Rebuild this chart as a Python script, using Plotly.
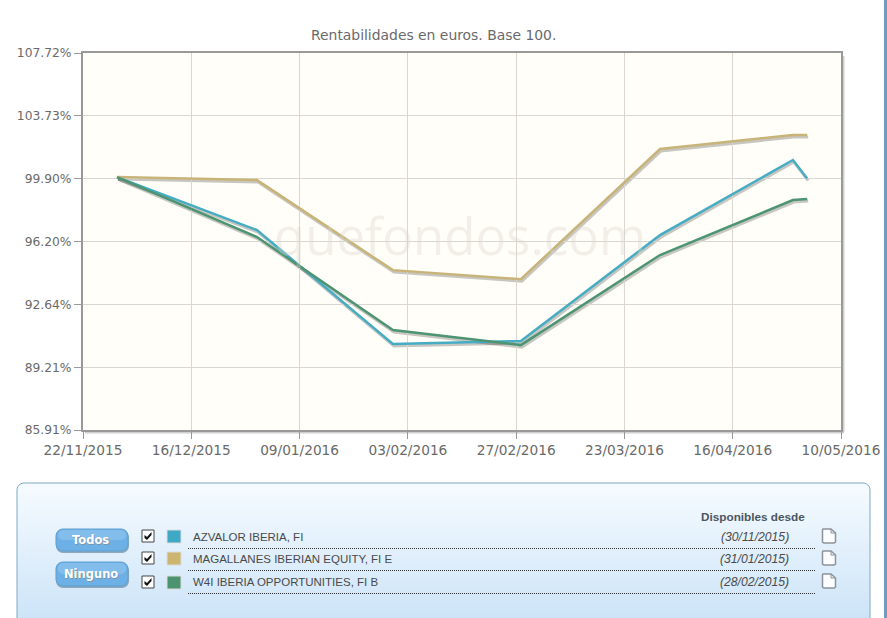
import math
import plotly.graph_objects as go

W, H = 887, 618

dates = ["2015-11-29 15:00", "2015-12-31 00:30", "2016-01-30 12:00", "2016-02-28 05:00",
         "2016-03-30 10:00", "2016-04-29 05:00", "2016-05-02 10:00"]
azvalor = [99.99, 96.86, 90.46, 90.62, 96.57, 101.02, 99.90]
magallanes = [99.99, 99.81, 94.56, 94.05, 101.69, 102.55, 102.55]
w4i = [99.99, 96.46, 91.22, 90.40, 95.42, 98.62, 98.68]

series_names = ["AZVALOR IBERIA, FI", "MAGALLANES IBERIAN EQUITY, FI E", "W4I IBERIA OPPORTUNITIES, FI B"]
series_dates = ["(30/11/2015)", "(31/01/2015)", "(28/02/2015)"]
series_colors = ["#46acc4", "#c8b479", "#4d9472"]
swatch_colors = ["#3fa9c5", "#cdb46f", "#4c9470"]

y_ticks = [107.72, 103.73, 99.90, 96.20, 92.64, 89.21, 85.91]
x_ticks = ["2015-11-22 00:00", "2015-12-16 06:51", "2016-01-09 13:43", "2016-02-02 20:34",
           "2016-02-27 03:26", "2016-03-22 10:17", "2016-04-15 17:09", "2016-05-10 00:00"]
x_labels = ["22/11/2015", "16/12/2015", "09/01/2016", "03/02/2016",
            "27/02/2016", "23/03/2016", "16/04/2016", "10/05/2016"]

L, R, T, B = 83, 841, 53, 430
y_range = [math.log10(85.91), math.log10(107.72)]
x_range = ["2015-11-22", "2016-05-10"]
FONT = "DejaVu Sans"


def px(x):
    return x / W


def py(y):
    return 1 - y / H


shapes, annotations = [], []


def rect(x0, y0, x1, y1, fill, line="rgba(0,0,0,0)", lw=0, layer="above"):
    shapes.append(dict(type="rect", xref="paper", yref="paper", x0=px(x0), x1=px(x1), y0=py(y0), y1=py(y1),
                       fillcolor=fill, line=dict(color=line, width=lw), layer=layer))


def seg(x0, y0, x1, y1, color, lw=1, dash="solid", layer="above"):
    shapes.append(dict(type="line", xref="paper", yref="paper", x0=px(x0), x1=px(x1), y0=py(y0), y1=py(y1),
                       line=dict(color=color, width=lw, dash=dash), layer=layer))


def path(points, fill=None, line="rgba(0,0,0,0)", lw=0, close=True, layer="above"):
    d = "M " + " L ".join(f"{px(a):.5f},{py(b):.5f}" for a, b in points) + (" Z" if close else "")
    s = dict(type="path", xref="paper", yref="paper", path=d, line=dict(color=line, width=lw), layer=layer)
    if fill:
        s["fillcolor"] = fill
    shapes.append(s)


def rounded(x0, y0, x1, y1, r, fill=None, line="rgba(0,0,0,0)", lw=0, layer="above"):
    pts = []
    for cx, cy, a0 in [(x1 - r, y0 + r, -90), (x1 - r, y1 - r, 0), (x0 + r, y1 - r, 90), (x0 + r, y0 + r, 180)]:
        for i in range(7):
            a = math.radians(a0 + i * 15)
            pts.append((cx + r * math.cos(a), cy + r * math.sin(a)))
    path(pts, fill, line, lw, True, layer)


def text(x, y, s, size=12, color="#444", anchor="left", family="Liberation Sans", opacity=1):
    shift = {"left": -2, "right": 2, "center": 0}[anchor]
    annotations.append(dict(xref="paper", yref="paper", x=px(x + shift), y=py(y), text=s, showarrow=False,
                            xanchor=anchor, yanchor="middle", opacity=opacity,
                            font=dict(size=size, color=color, family=family)))


def mix(c0, c1, t):
    return "rgb(" + ",".join(str(round(a + (b - a) * t)) for a, b in zip(c0, c1)) + ")"


# plot background and frame shadow
rect(L, T, R, B, "#fffef8", layer="below")
seg(R + 2.5, T + 3, R + 2.5, B + 2, "#d0d0d0", 2, layer="below")
seg(L + 2, B + 2.5, R + 3, B + 2.5, "#d0d0d0", 2, layer="below")

# right page edge
rect(884, 0, 887, H, "#6f9dc0")

# panel gradient
p_l, p_t, p_r, p_b = 17, 483, 870, 640
radius = 7
for yy in range(p_t, H):
    t = (yy - p_t) / (H - p_t)
    inset = 0
    if yy - p_t < radius:
        inset = radius - math.sqrt(radius ** 2 - (radius - (yy - p_t)) ** 2)
    rect(p_l + inset, yy, p_r - inset, yy + 1, mix((246, 251, 255), (205, 228, 248), t))
rounded(p_l, p_t, p_r, p_b, radius, None, "#7fa9c2", 1)

# buttons
for y0, y1, label in [(529, 551, "Todos"), (562, 586, "Ninguno")]:
    rounded(56, y0 + 2, 129, y1 + 2, 7, "#8da9bd")
    rounded(56, y0, 128, y1, 7, "#6cb0e6", "#5f9fd0", 1)
    rounded(58, y0 + 1, 126, (y0 + y1) / 2, 5, "#82bdec")
    text(91.5, (y0 + y1) / 2 + 1, f"<b>{label}</b>", 11.5, "#7f93a5", "center", FONT)
    text(90.5, (y0 + y1) / 2, f"<b>{label}</b>", 11.5, "#ffffff", "center", FONT)

# legend rows
row_y = [537, 559, 582]
for i, yy in enumerate(row_y):
    cy = yy - 1 + (1 if i == 2 else 0)
    rect(142, cy - 6, 154, cy + 6, "#ffffff", "#444444", 1)
    path([(144.5, cy - 1), (147, cy + 1), (151.5, cy - 4), (151.5, cy - 1), (147, cy + 4), (144.5, cy + 2)], "#111111")
    rect(167, cy - 6, 181, cy + 7, swatch_colors[i], "#dcdcdc", 1)
    text(193, yy, series_names[i], 11.5, "#4a4a4a")
    text(789, yy, f"<i>{series_dates[i]}</i>", 12.2, "#4a4a4a", "right")
    seg(188, yy + 11.5, 815, yy + 11.5, "#333333", 1, "1px,1px")
    # document icon
    ic = yy - 10
    path([(823, ic + 2), (831, ic + 2), (835.5, ic + 6), (835.5, ic + 15), (834, ic + 16), (824, ic + 16), (822.5, ic + 15), (822.5, ic + 3)],
         "#fbfdff", "#8c9299", 1.5)
    path([(831, ic + 2), (831, ic + 6), (835.5, ic + 6)], None, "#8c9299", 1, False)

text(805, 516, "<b>Disponibles desde</b>", 11.75, "#4d5560", "right")

# chart title and watermark
text(433.5, 35, "Rentabilidades en euros. Base 100.", 13.9, "#6a6a6a", "center", FONT)
text(460, 235, "quefondos.com", 51, "#d8d6cc", "center", "Open Sans", 0.35)

fig = go.Figure()

all_series = [azvalor, magallanes, w4i]
# shadows on an offset pair of axes underneath, lines on the chart's own axes above
for vals in all_series:
    fig.add_trace(go.Scatter(x=dates, y=vals, mode="lines", xaxis="x", yaxis="y", showlegend=False, hoverinfo="skip",
                             line=dict(color="rgba(0,0,0,0.22)", width=3)))
for vals, name, col in zip(all_series, series_names, series_colors):
    fig.add_trace(go.Scatter(x=dates, y=vals, mode="lines", xaxis="x2", yaxis="y2", name=name, showlegend=False,
                             line=dict(color=col, width=2.5)))

dom_x = [px(L), px(R)]
dom_y = [py(B), py(T)]
hidden = dict(visible=False, showgrid=False, zeroline=False, automargin=False)
fig.update_layout(
    width=W, height=H, margin=dict(l=0, r=0, t=0, b=0, pad=0), autosize=False,
    paper_bgcolor="#ffffff", plot_bgcolor="rgba(0,0,0,0)", showlegend=False,
    shapes=shapes, annotations=annotations,
    font=dict(family=FONT, color="#6a6a6a", size=13),
    xaxis=dict(type="date", domain=[px(L + 1), px(R + 1)], range=x_range, anchor="y", **hidden),
    yaxis=dict(type="log", domain=[py(B + 2), py(T + 2)], range=y_range, anchor="x", **hidden),
    xaxis2=dict(type="date", domain=dom_x, range=x_range, tickmode="array", tickvals=x_ticks, ticktext=x_labels,
                showgrid=True, gridcolor="#d9d7d0", gridwidth=1, ticks="outside", ticklen=7, tickcolor="#999999",
                showline=True, linecolor="#999999", linewidth=2, mirror=True, anchor="y2", tickangle=0,
                tickfont=dict(size=13.7, color="#6a6a6a"), zeroline=False, automargin=False),
    yaxis2=dict(type="log", domain=dom_y, range=y_range, tickmode="array", tickvals=y_ticks,
                ticktext=[f"{v:.2f}%" for v in y_ticks], showgrid=True, gridcolor="#d9d7d0", gridwidth=1,
                ticks="outside", ticklen=7, tickcolor="#999999", showline=True, linecolor="#999999", linewidth=2,
                mirror=True, anchor="x2", zeroline=False, tickfont=dict(size=12.3, color="#6a6a6a"), automargin=False),
)

fig.write_html("out.html", config={"displayModeBar": False},
               post_script="document.body.style.margin='0';document.body.style.overflow='hidden';")
